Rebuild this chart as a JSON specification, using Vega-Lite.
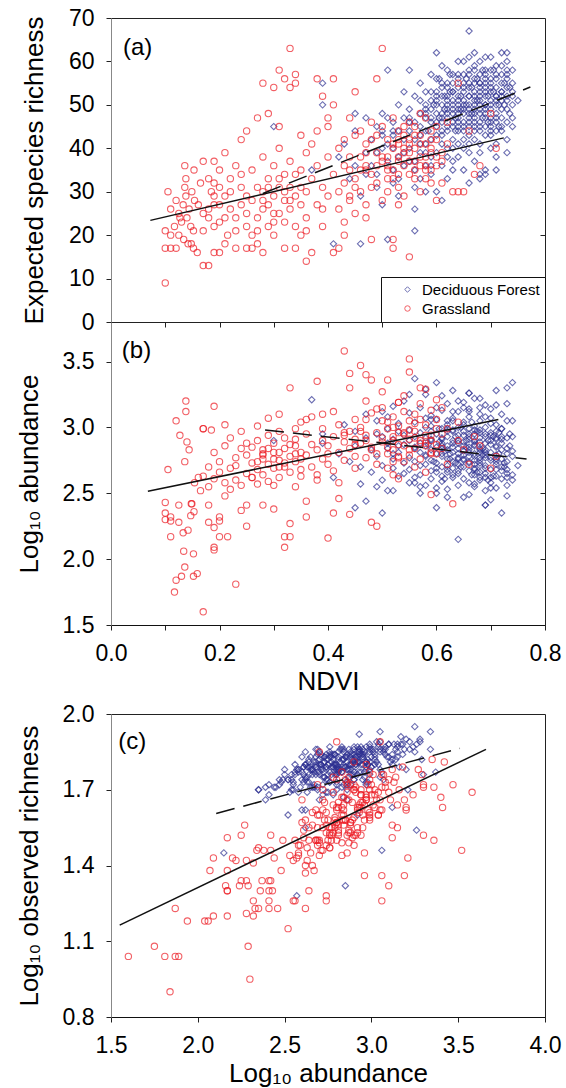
{
"$schema":"https://vega.github.io/schema/vega-lite/v6.json",
"padding":{"left":15,"top":6,"right":5,"bottom":5},
"config":{"font":"Liberation Sans","view":{"stroke":"#222","strokeWidth":1},"axis":{"grid":false,"labelFontSize":23,"titleFontSize":26,"titleFontWeight":"normal","labelColor":"#000","titleColor":"#000","tickColor":"#222","domainColor":"#222","tickSize":5,"labelPadding":12,"labelFlush":false,"labelOverlap":false}},
"datasets":{
"F":[
{"n":0.37,"e":35,"a":3.21,"o":1.70},{"n":0.39,"e":55,"a":2.95,"o":1.86},{"n":0.39,"e":50,"a":2.88,"o":1.78},{"n":0.30,"e":45,"a":2.90,"o":1.74},{"n":0.41,"e":18,"a":2.62,"o":1.55},{"n":0.42,"e":38,"a":2.80,"o":1.72},{"n":0.43,"e":41,"a":3.02,"o":1.80},{"n":0.44,"e":33,"a":2.74,"o":1.69},{"n":0.45,"e":36,"a":2.86,"o":1.73},{"n":0.45,"e":44,"a":2.97,"o":1.81},{"n":0.46,"e":18,"a":2.57,"o":1.28},{"n":0.46,"e":29,"a":2.70,"o":1.66},{"n":0.47,"e":39,"a":2.44,"o":1.71},{"n":0.47,"e":47,"a":3.10,"o":1.83},{"n":0.47,"e":34,"a":2.92,"o":1.76},
{"n":0.48,"e":42,"a":2.83,"o":1.77},{"n":0.48,"e":36,"a":2.66,"o":1.71},{"n":0.49,"e":45,"a":3.05,"o":1.85},{"n":0.49,"e":31,"a":2.78,"o":1.68},{"n":0.49,"e":39,"a":2.95,"o":1.74},{"n":0.50,"e":48,"a":2.71,"o":1.79},{"n":0.50,"e":43,"a":3.12,"o":1.82},{"n":0.50,"e":27,"a":2.60,"o":1.62},{"n":0.51,"e":58,"a":2.88,"o":1.80},{"n":0.51,"e":37,"a":2.84,"o":1.72},{"n":0.51,"e":19,"a":2.52,"o":1.60},{"n":0.51,"e":41,"a":2.99,"o":1.76},{"n":0.52,"e":35,"a":2.69,"o":1.70},{"n":0.52,"e":46,"a":2.91,"o":1.83},{"n":0.52,"e":40,"a":3.16,"o":1.79},{"n":0.52,"e":32,"a":2.76,"o":1.73},{"n":0.53,"e":50,"a":2.81,"o":1.78},{"n":0.53,"e":38,"a":2.63,"o":1.69},{"n":0.53,"e":44,"a":3.03,"o":1.81},{"n":0.53,"e":29,"a":2.86,"o":1.66},{"n":0.54,"e":42,"a":2.73,"o":1.75},{"n":0.54,"e":47,"a":2.94,"o":1.84},{"n":0.54,"e":36,"a":3.20,"o":1.78},{"n":0.54,"e":53,"a":2.87,"o":1.80},{"n":0.49,"e":34,"a":2.55,"o":1.70},{"n":0.50,"e":40,"a":2.93,"o":1.77},{"n":0.52,"e":44,"a":2.80,"o":1.76},{"n":0.53,"e":33,"a":2.97,"o":1.72},{"n":0.54,"e":39,"a":2.65,"o":1.71},{"n":0.51,"e":47,"a":3.08,"o":1.86},
{"n":0.55,"e":58,"a":2.90,"o":1.82},{"n":0.55,"e":44,"a":2.77,"o":1.76},{"n":0.55,"e":37,"a":2.98,"o":1.73},{"n":0.55,"e":49,"a":2.68,"o":1.79},{"n":0.55,"e":40,"a":3.11,"o":1.81},{"n":0.56,"e":26,"a":2.84,"o":1.67},{"n":0.56,"e":21,"a":2.62,"o":1.62},{"n":0.56,"e":46,"a":2.93,"o":1.85},{"n":0.56,"e":42,"a":2.74,"o":1.74},{"n":0.56,"e":52,"a":3.04,"o":1.80},{"n":0.56,"e":35,"a":2.58,"o":1.69},{"n":0.56,"e":37,"a":3.37,"o":1.77},{"n":0.57,"e":45,"a":2.81,"o":1.78},{"n":0.57,"e":39,"a":2.96,"o":1.75},{"n":0.57,"e":55,"a":2.71,"o":1.83},{"n":0.57,"e":48,"a":3.15,"o":1.87},{"n":0.57,"e":33,"a":2.88,"o":1.72},{"n":0.57,"e":43,"a":2.64,"o":1.73},{"n":0.58,"e":50,"a":2.92,"o":1.81},{"n":0.58,"e":41,"a":2.79,"o":1.76},{"n":0.58,"e":36,"a":3.07,"o":1.74},{"n":0.58,"e":47,"a":2.56,"o":1.77},{"n":0.58,"e":53,"a":2.86,"o":1.84},{"n":0.58,"e":30,"a":2.72,"o":1.68},{"n":0.58,"e":44,"a":3.00,"o":1.79},{"n":0.59,"e":57,"a":2.83,"o":1.79},{"n":0.59,"e":38,"a":2.67,"o":1.71},{"n":0.59,"e":46,"a":3.09,"o":1.83},{"n":0.59,"e":42,"a":2.90,"o":1.77},{"n":0.59,"e":51,"a":2.75,"o":1.80},{"n":0.59,"e":34,"a":2.97,"o":1.73},{"n":0.55,"e":46,"a":3.25,"o":1.85},{"n":0.57,"e":51,"a":2.50,"o":1.78},{"n":0.58,"e":39,"a":3.29,"o":1.82},{"n":0.59,"e":49,"a":2.61,"o":1.76},
{"n":0.60,"e":62,"a":3.34,"o":1.93},{"n":0.60,"e":30,"a":2.39,"o":1.66},{"n":0.60,"e":48,"a":2.85,"o":1.79},{"n":0.60,"e":43,"a":2.73,"o":1.75},{"n":0.60,"e":53,"a":2.95,"o":1.84},{"n":0.60,"e":39,"a":3.06,"o":1.77},{"n":0.60,"e":56,"a":2.66,"o":1.78},{"n":0.61,"e":28,"a":2.80,"o":1.70},{"n":0.61,"e":46,"a":2.91,"o":1.82},{"n":0.61,"e":50,"a":2.78,"o":1.79},{"n":0.61,"e":41,"a":2.99,"o":1.78},{"n":0.61,"e":54,"a":3.13,"o":1.88},{"n":0.61,"e":36,"a":2.59,"o":1.71},{"n":0.61,"e":47,"a":2.70,"o":1.76},{"n":0.61,"e":59,"a":2.88,"o":1.85},{"n":0.62,"e":44,"a":2.83,"o":1.77},{"n":0.62,"e":52,"a":3.02,"o":1.83},{"n":0.62,"e":38,"a":2.76,"o":1.73},{"n":0.62,"e":49,"a":2.47,"o":1.74},{"n":0.62,"e":55,"a":2.93,"o":1.86},{"n":0.62,"e":45,"a":3.18,"o":1.84},{"n":0.62,"e":33,"a":2.86,"o":1.72},{"n":0.62,"e":51,"a":2.68,"o":1.80},{"n":0.63,"e":48,"a":2.97,"o":1.81},{"n":0.63,"e":42,"a":2.62,"o":1.74},{"n":0.63,"e":57,"a":2.81,"o":1.83},{"n":0.63,"e":46,"a":3.28,"o":1.89},{"n":0.63,"e":53,"a":2.74,"o":1.79},{"n":0.63,"e":40,"a":2.90,"o":1.76},{"n":0.63,"e":50,"a":3.07,"o":1.85},{"n":0.63,"e":35,"a":2.69,"o":1.71},{"n":0.64,"e":47,"a":2.15,"o":1.45},{"n":0.64,"e":54,"a":2.84,"o":1.82},{"n":0.64,"e":44,"a":3.00,"o":1.79},{"n":0.64,"e":60,"a":2.77,"o":1.84},{"n":0.64,"e":49,"a":2.56,"o":1.76},{"n":0.64,"e":41,"a":3.12,"o":1.80},{"n":0.64,"e":52,"a":2.94,"o":1.87},{"n":0.64,"e":38,"a":2.72,"o":1.72},{"n":0.64,"e":56,"a":3.20,"o":1.90},{"n":0.60,"e":45,"a":2.54,"o":1.74},{"n":0.61,"e":52,"a":3.24,"o":1.87},{"n":0.62,"e":40,"a":2.53,"o":1.69},{"n":0.63,"e":45,"a":2.88,"o":1.80},{"n":0.64,"e":50,"a":2.65,"o":1.78},{"n":0.60,"e":50,"a":3.15,"o":1.83},{"n":0.61,"e":43,"a":2.63,"o":1.75},{"n":0.62,"e":58,"a":2.99,"o":1.85},{"n":0.63,"e":37,"a":3.05,"o":1.75},{"n":0.64,"e":46,"a":2.80,"o":1.78},
{"n":0.65,"e":51,"a":2.82,"o":1.81},{"n":0.65,"e":44,"a":2.97,"o":1.78},{"n":0.65,"e":57,"a":2.70,"o":1.82},{"n":0.65,"e":48,"a":3.19,"o":1.86},{"n":0.65,"e":40,"a":2.61,"o":1.73},{"n":0.65,"e":54,"a":2.89,"o":1.84},{"n":0.65,"e":46,"a":2.76,"o":1.77},{"n":0.65,"e":60,"a":3.04,"o":1.88},{"n":0.65,"e":35,"a":2.86,"o":1.70},{"n":0.66,"e":67,"a":2.93,"o":1.92},{"n":0.66,"e":50,"a":2.74,"o":1.79},{"n":0.66,"e":43,"a":2.91,"o":1.80},{"n":0.66,"e":55,"a":2.58,"o":1.77},{"n":0.66,"e":47,"a":3.08,"o":1.84},{"n":0.66,"e":52,"a":2.85,"o":1.83},{"n":0.66,"e":39,"a":2.67,"o":1.72},{"n":0.66,"e":58,"a":2.99,"o":1.87},{"n":0.66,"e":49,"a":2.49,"o":1.74},{"n":0.66,"e":45,"a":3.14,"o":1.82},{"n":0.67,"e":53,"a":2.80,"o":1.80},{"n":0.67,"e":48,"a":2.95,"o":1.83},{"n":0.67,"e":42,"a":2.72,"o":1.75},{"n":0.67,"e":59,"a":2.87,"o":1.86},{"n":0.67,"e":51,"a":3.22,"o":1.89},{"n":0.67,"e":45,"a":2.64,"o":1.76},{"n":0.67,"e":56,"a":2.78,"o":1.82},{"n":0.67,"e":37,"a":2.90,"o":1.74},{"n":0.67,"e":50,"a":3.01,"o":1.85},{"n":0.67,"e":62,"a":2.69,"o":1.84},{"n":0.67,"e":47,"a":2.55,"o":1.73},{"n":0.68,"e":54,"a":2.92,"o":1.85},{"n":0.68,"e":49,"a":2.77,"o":1.79},{"n":0.68,"e":34,"a":2.83,"o":1.71},{"n":0.68,"e":57,"a":3.10,"o":1.88},{"n":0.68,"e":44,"a":2.66,"o":1.76},{"n":0.68,"e":52,"a":2.96,"o":1.84},{"n":0.68,"e":46,"a":2.84,"o":1.79},{"n":0.68,"e":60,"a":2.73,"o":1.83},{"n":0.68,"e":41,"a":3.05,"o":1.78},{"n":0.68,"e":50,"a":2.60,"o":1.77},{"n":0.69,"e":55,"a":2.88,"o":1.83},{"n":0.69,"e":48,"a":2.71,"o":1.78},{"n":0.69,"e":35,"a":2.41,"o":1.68},{"n":0.69,"e":52,"a":3.00,"o":1.86},{"n":0.69,"e":58,"a":2.79,"o":1.84},{"n":0.69,"e":45,"a":2.93,"o":1.81},{"n":0.69,"e":50,"a":2.52,"o":1.74},{"n":0.69,"e":43,"a":2.81,"o":1.77},{"n":0.69,"e":61,"a":3.17,"o":1.91},{"n":0.69,"e":53,"a":2.65,"o":1.79},{"n":0.65,"e":50,"a":2.47,"o":1.72},{"n":0.66,"e":54,"a":3.26,"o":1.88},{"n":0.67,"e":44,"a":2.98,"o":1.80},{"n":0.68,"e":48,"a":3.15,"o":1.85},{"n":0.69,"e":47,"a":2.62,"o":1.75},{"n":0.65,"e":42,"a":2.75,"o":1.74},{"n":0.66,"e":61,"a":2.83,"o":1.86},{"n":0.67,"e":55,"a":2.57,"o":1.78},{"n":0.68,"e":39,"a":2.89,"o":1.76},{"n":0.69,"e":56,"a":3.08,"o":1.87},
{"n":0.70,"e":53,"a":2.81,"o":1.82},{"n":0.70,"e":47,"a":2.94,"o":1.80},{"n":0.70,"e":58,"a":2.68,"o":1.81},{"n":0.70,"e":50,"a":3.07,"o":1.86},{"n":0.70,"e":43,"a":2.75,"o":1.76},{"n":0.70,"e":56,"a":2.58,"o":1.78},{"n":0.70,"e":61,"a":2.90,"o":1.87},{"n":0.70,"e":45,"a":2.45,"o":1.71},{"n":0.71,"e":52,"a":2.86,"o":1.83},{"n":0.71,"e":48,"a":2.72,"o":1.78},{"n":0.71,"e":59,"a":2.97,"o":1.87},{"n":0.71,"e":54,"a":3.17,"o":1.88},{"n":0.71,"e":41,"a":2.63,"o":1.73},{"n":0.71,"e":50,"a":2.79,"o":1.80},{"n":0.71,"e":57,"a":2.54,"o":1.76},{"n":0.71,"e":46,"a":3.02,"o":1.82},{"n":0.72,"e":55,"a":2.76,"o":1.83},{"n":0.72,"e":51,"a":2.88,"o":1.84},{"n":0.72,"e":62,"a":2.70,"o":1.85},{"n":0.72,"e":44,"a":2.35,"o":1.70},{"n":0.72,"e":49,"a":2.93,"o":1.81},{"n":0.72,"e":57,"a":2.61,"o":1.79},{"n":0.72,"e":53,"a":3.10,"o":1.88},{"n":0.72,"e":47,"a":2.67,"o":1.77},{"n":0.73,"e":56,"a":2.84,"o":1.85},{"n":0.73,"e":46,"a":2.74,"o":1.78},{"n":0.73,"e":60,"a":2.56,"o":1.80},{"n":0.73,"e":52,"a":3.05,"o":1.86},{"n":0.73,"e":42,"a":2.80,"o":1.76},{"n":0.73,"e":62,"a":2.68,"o":1.83},{"n":0.73,"e":49,"a":2.48,"o":1.73},{"n":0.74,"e":52,"a":2.93,"o":1.84},{"n":0.74,"e":55,"a":2.64,"o":1.81},{"n":0.74,"e":47,"a":2.78,"o":1.79},{"n":0.74,"e":58,"a":3.05,"o":1.89},{"n":0.74,"e":45,"a":2.60,"o":1.74},{"n":0.75,"e":51,"a":2.71,"o":1.80},{"n":0.70,"e":51,"a":3.14,"o":1.86},{"n":0.71,"e":44,"a":2.91,"o":1.79},{"n":0.72,"e":59,"a":2.99,"o":1.88},{"n":0.73,"e":54,"a":2.62,"o":1.80},{"n":0.69,"e":34,"a":2.41,"o":1.72},{"n":0.68,"e":33,"a":2.75,"o":1.69},{"n":0.71,"e":38,"a":2.85,"o":1.74},{"n":0.70,"e":40,"a":2.54,"o":1.70},
{"n":0.58,"e":48,"a":3.25,"o":1.95},{"n":0.74,"e":50,"a":3.34,"o":1.86},{"n":0.62,"e":47,"a":3.05,"o":1.93},{"n":0.66,"e":41,"a":3.26,"o":1.54},{"n":0.59,"e":36,"a":3.06,"o":1.46},{"n":0.56,"e":31,"a":2.85,"o":1.32},{"n":0.50,"e":44,"a":2.35,"o":1.70},{"n":0.45,"e":48,"a":2.39,"o":1.71},{"n":0.73,"e":39,"a":3.30,"o":1.76},{"n":0.71,"e":35,"a":2.92,"o":1.60},{"n":0.66,"e":32,"a":3.12,"o":1.63},
{"n":0.58,"e":49,"a":2.78,"o":1.80},{"n":0.59,"e":53,"a":2.91,"o":1.83},{"n":0.60,"e":46,"a":2.69,"o":1.77},{"n":0.61,"e":55,"a":2.84,"o":1.86},{"n":0.62,"e":48,"a":2.97,"o":1.79},{"n":0.63,"e":51,"a":2.64,"o":1.82},{"n":0.64,"e":57,"a":2.88,"o":1.76},{"n":0.65,"e":45,"a":3.02,"o":1.84},{"n":0.66,"e":52,"a":2.73,"o":1.81},{"n":0.67,"e":49,"a":2.86,"o":1.78},{"n":0.68,"e":55,"a":2.62,"o":1.85},{"n":0.69,"e":50,"a":2.95,"o":1.80},{"n":0.70,"e":54,"a":2.77,"o":1.83},{"n":0.71,"e":47,"a":2.68,"o":1.76},{"n":0.72,"e":52,"a":2.83,"o":1.82},{"n":0.73,"e":57,"a":2.92,"o":1.87},{"n":0.585,"e":44,"a":2.87,"o":1.75},{"n":0.595,"e":50,"a":2.74,"o":1.84},{"n":0.605,"e":56,"a":2.99,"o":1.81},{"n":0.615,"e":49,"a":2.61,"o":1.79},{"n":0.625,"e":53,"a":2.80,"o":1.77},{"n":0.635,"e":47,"a":2.93,"o":1.86},{"n":0.645,"e":52,"a":2.70,"o":1.80},{"n":0.655,"e":56,"a":2.85,"o":1.83},{"n":0.665,"e":48,"a":3.04,"o":1.87},{"n":0.675,"e":51,"a":2.66,"o":1.78},{"n":0.685,"e":58,"a":2.79,"o":1.84},{"n":0.695,"e":46,"a":2.90,"o":1.81},{"n":0.705,"e":53,"a":2.63,"o":1.79},{"n":0.715,"e":50,"a":2.96,"o":1.85},{"n":0.725,"e":55,"a":2.73,"o":1.81},{"n":0.735,"e":48,"a":2.86,"o":1.78},{"n":0.59,"e":47,"a":3.01,"o":1.86},{"n":0.60,"e":51,"a":2.80,"o":1.73},{"n":0.61,"e":44,"a":2.92,"o":1.82},{"n":0.62,"e":54,"a":2.71,"o":1.84},{"n":0.63,"e":49,"a":2.85,"o":1.79},{"n":0.64,"e":45,"a":2.67,"o":1.81},{"n":0.65,"e":53,"a":2.94,"o":1.77},{"n":0.66,"e":57,"a":2.81,"o":1.85},{"n":0.67,"e":46,"a":2.75,"o":1.82},{"n":0.68,"e":51,"a":2.98,"o":1.80},{"n":0.69,"e":54,"a":2.69,"o":1.86},{"n":0.70,"e":49,"a":2.87,"o":1.78},{"n":0.71,"e":56,"a":2.76,"o":1.84},{"n":0.72,"e":45,"a":2.91,"o":1.80},{"n":0.73,"e":51,"a":2.65,"o":1.83},{"n":0.74,"e":53,"a":2.82,"o":1.86},{"n":0.605,"e":47,"a":2.89,"o":1.80},{"n":0.625,"e":57,"a":2.76,"o":1.87},{"n":0.645,"e":49,"a":3.00,"o":1.83},{"n":0.665,"e":54,"a":2.64,"o":1.79},{"n":0.685,"e":47,"a":2.84,"o":1.82},{"n":0.705,"e":58,"a":2.93,"o":1.85},{"n":0.725,"e":50,"a":2.70,"o":1.77},{"n":0.615,"e":52,"a":2.82,"o":1.78},{"n":0.635,"e":44,"a":2.73,"o":1.83},{"n":0.655,"e":50,"a":2.90,"o":1.86},{"n":0.675,"e":56,"a":2.97,"o":1.81},{"n":0.695,"e":52,"a":2.60,"o":1.83},{"n":0.715,"e":45,"a":2.80,"o":1.79},{"n":0.735,"e":54,"a":2.95,"o":1.84},{"n":0.66,"e":48,"a":2.78,"o":1.84},{"n":0.67,"e":52,"a":2.89,"o":1.82},{"n":0.68,"e":45,"a":2.71,"o":1.80},{"n":0.69,"e":57,"a":2.83,"o":1.87},{"n":0.70,"e":44,"a":2.96,"o":1.77},{"n":0.64,"e":51,"a":2.76,"o":1.85},{"n":0.63,"e":55,"a":2.98,"o":1.82},{"n":0.62,"e":50,"a":2.66,"o":1.78},{"n":0.61,"e":48,"a":2.86,"o":1.81},{"n":0.72,"e":53,"a":2.99,"o":1.86},{"n":0.71,"e":51,"a":2.74,"o":1.82},{"n":0.70,"e":46,"a":2.62,"o":1.80},{"n":0.68,"e":53,"a":2.81,"o":1.79},{"n":0.67,"e":58,"a":2.68,"o":1.86},{"n":0.66,"e":46,"a":2.95,"o":1.83},{"n":0.65,"e":55,"a":2.79,"o":1.80},{"n":0.64,"e":48,"a":2.90,"o":1.84},{"n":0.69,"e":49,"a":2.77,"o":1.81},
{"n":0.52,"e":43,"a":2.52,"o":1.74},{"n":0.55,"e":47,"a":2.58,"o":1.78},{"n":0.57,"e":41,"a":2.55,"o":1.72},{"n":0.60,"e":52,"a":2.50,"o":1.76},{"n":0.65,"e":49,"a":3.15,"o":1.88},{"n":0.68,"e":55,"a":3.22,"o":1.86},{"n":0.71,"e":52,"a":3.28,"o":1.90},{"n":0.63,"e":53,"a":3.12,"o":1.84},{"n":0.73,"e":58,"a":3.18,"o":1.88},{"n":0.70,"e":55,"a":3.03,"o":1.89}
],
"G":[
{"n":0.10,"e":17,"a":2.43,"o":1.30},{"n":0.10,"e":21,"a":2.35,"o":1.23},{"n":0.10,"e":9,"a":2.30,"o":0.95},{"n":0.11,"e":20,"a":2.32,"o":1.20},{"n":0.11,"e":26,"a":2.17,"o":1.38},{"n":0.105,"e":30,"a":2.68,"o":1.50},{"n":0.11,"e":17,"a":2.29,"o":1.08},{"n":0.12,"e":28,"a":3.05,"o":1.66},{"n":0.12,"e":17,"a":1.84,"o":0.90},{"n":0.117,"e":22,"a":1.75,"o":1.08},{"n":0.125,"e":20,"a":2.41,"o":1.26},{"n":0.125,"e":25,"a":2.28,"o":1.21},{"n":0.127,"e":24,"a":2.94,"o":1.52},{"n":0.13,"e":23,"a":1.87,"o":1.04},{"n":0.133,"e":27,"a":2.20,"o":1.43},{"n":0.134,"e":19,"a":2.06,"o":1.18},{"n":0.136,"e":36,"a":1.94,"o":1.18},{"n":0.136,"e":31,"a":2.74,"o":1.53},{"n":0.138,"e":33,"a":3.20,"o":1.62},{"n":0.138,"e":29,"a":3.12,"o":1.56},{"n":0.14,"e":24,"a":2.89,"o":1.58},{"n":0.142,"e":18,"a":2.22,"o":1.42},{"n":0.144,"e":26,"a":2.83,"o":1.49},{"n":0.147,"e":22,"a":2.33,"o":1.23},{"n":0.148,"e":18,"a":2.42,"o":1.46},{"n":0.149,"e":30,"a":2.42,"o":1.34},{"n":0.152,"e":17,"a":2.04,"o":1.18},{"n":0.152,"e":21,"a":1.87,"o":1.23},{"n":0.153,"e":35,"a":2.36,"o":1.30},{"n":0.154,"e":28,"a":2.58,"o":1.45},{"n":0.159,"e":16,"a":1.89,"o":1.04},{"n":0.161,"e":27,"a":2.62,"o":1.40},{"n":0.165,"e":32,"a":2.52,"o":1.15},{"n":0.17,"e":13,"a":1.60,"o":1.04},{"n":0.17,"e":25,"a":2.99,"o":1.58},
{"n":0.17,"e":37,"a":2.99,"o":1.60},{"n":0.18,"e":13,"a":2.41,"o":1.23},{"n":0.18,"e":24,"a":2.28,"o":1.34},{"n":0.185,"e":30,"a":2.98,"o":1.62},{"n":0.19,"e":37,"a":2.07,"o":1.38},{"n":0.19,"e":22,"a":2.24,"o":1.32},{"n":0.19,"e":29,"a":3.16,"o":1.70},{"n":0.19,"e":16,"a":2.09,"o":1.20},{"n":0.20,"e":16,"a":2.29,"o":1.32},{"n":0.20,"e":27,"a":2.17,"o":1.51},{"n":0.20,"e":31,"a":2.32,"o":1.41},{"n":0.21,"e":39,"a":3.02,"o":1.68},{"n":0.215,"e":20,"a":2.17,"o":1.30},{"n":0.23,"e":17,"a":1.81,"o":1.04},{"n":0.24,"e":42,"a":2.37,"o":1.34},{"n":0.25,"e":17,"a":2.41,"o":1.34},{"n":0.25,"e":25,"a":2.25,"o":1.34},{"n":0.17,"e":21,"a":2.63,"o":1.47},{"n":0.18,"e":26,"a":2.70,"o":1.50},{"n":0.18,"e":33,"a":2.55,"o":1.42},{"n":0.19,"e":27,"a":2.81,"o":1.56},{"n":0.20,"e":23,"a":2.66,"o":1.40},{"n":0.20,"e":35,"a":2.74,"o":1.61},{"n":0.21,"e":29,"a":2.58,"o":1.48},{"n":0.21,"e":18,"a":2.86,"o":1.52},{"n":0.22,"e":33,"a":2.69,"o":1.55},{"n":0.22,"e":26,"a":2.53,"o":1.44},{"n":0.22,"e":30,"a":2.92,"o":1.63},{"n":0.23,"e":24,"a":2.77,"o":1.50},{"n":0.23,"e":36,"a":2.60,"o":1.57},{"n":0.23,"e":21,"a":2.71,"o":1.46},{"n":0.24,"e":31,"a":2.84,"o":1.64},{"n":0.24,"e":27,"a":2.56,"o":1.50},{"n":0.24,"e":34,"a":2.97,"o":1.68},{"n":0.25,"e":22,"a":2.65,"o":1.45},{"n":0.25,"e":44,"a":2.79,"o":1.58},{"n":0.25,"e":29,"a":2.88,"o":1.53},{"n":0.21,"e":24,"a":2.48,"o":1.38},{"n":0.19,"e":32,"a":2.61,"o":1.51},
{"n":0.26,"e":17,"a":2.62,"o":1.37},{"n":0.26,"e":28,"a":2.85,"o":1.58},{"n":0.26,"e":35,"a":2.73,"o":1.65},{"n":0.27,"e":47,"a":2.90,"o":1.70},{"n":0.27,"e":24,"a":2.68,"o":1.50},{"n":0.27,"e":31,"a":3.01,"o":1.64},{"n":0.27,"e":21,"a":2.57,"o":1.43},{"n":0.28,"e":55,"a":2.80,"o":1.74},{"n":0.28,"e":16,"a":2.41,"o":1.30},{"n":0.28,"e":26,"a":2.76,"o":1.52},{"n":0.28,"e":38,"a":2.83,"o":1.67},{"n":0.28,"e":30,"a":2.64,"o":1.55},{"n":0.29,"e":48,"a":3.07,"o":1.76},{"n":0.29,"e":22,"a":2.72,"o":1.46},{"n":0.29,"e":33,"a":2.94,"o":1.63},{"n":0.29,"e":27,"a":2.59,"o":1.48},{"n":0.30,"e":54,"a":2.38,"o":1.46},{"n":0.30,"e":20,"a":2.81,"o":1.54},{"n":0.30,"e":36,"a":2.69,"o":1.60},{"n":0.30,"e":29,"a":2.88,"o":1.57},{"n":0.31,"e":58,"a":2.97,"o":1.80},{"n":0.31,"e":25,"a":2.75,"o":1.50},{"n":0.31,"e":40,"a":2.62,"o":1.58},{"n":0.31,"e":31,"a":3.10,"o":1.69},{"n":0.32,"e":56,"a":2.09,"o":1.43},{"n":0.32,"e":17,"a":2.17,"o":1.20},{"n":0.32,"e":34,"a":2.84,"o":1.62},{"n":0.32,"e":23,"a":2.70,"o":1.49},{"n":0.32,"e":28,"a":2.92,"o":1.55},{"n":0.33,"e":54,"a":2.17,"o":1.30},{"n":0.33,"e":63,"a":2.27,"o":1.56},{"n":0.33,"e":37,"a":3.30,"o":1.72},{"n":0.33,"e":26,"a":2.78,"o":1.53},{"n":0.33,"e":31,"a":2.66,"o":1.61},{"n":0.34,"e":55,"a":2.86,"o":1.73},{"n":0.34,"e":17,"a":2.55,"o":1.26},{"n":0.34,"e":57,"a":2.99,"o":1.77},{"n":0.34,"e":29,"a":2.74,"o":1.56},{"n":0.34,"e":22,"a":2.91,"o":1.52},{"n":0.35,"e":35,"a":2.81,"o":1.65},{"n":0.35,"e":43,"a":2.68,"o":1.62},{"n":0.35,"e":27,"a":3.04,"o":1.60},{"n":0.35,"e":20,"a":2.63,"o":1.42},
{"n":0.36,"e":14,"a":2.32,"o":1.26},{"n":0.36,"e":39,"a":2.44,"o":1.43},{"n":0.36,"e":30,"a":2.79,"o":1.59},{"n":0.36,"e":24,"a":2.95,"o":1.55},{"n":0.37,"e":16,"a":2.70,"o":1.44},{"n":0.37,"e":33,"a":2.87,"o":1.66},{"n":0.37,"e":41,"a":3.08,"o":1.71},{"n":0.38,"e":56,"a":3.35,"o":1.82},{"n":0.38,"e":27,"a":2.64,"o":1.50},{"n":0.38,"e":36,"a":2.83,"o":1.63},{"n":0.39,"e":52,"a":2.90,"o":1.72},{"n":0.39,"e":22,"a":2.76,"o":1.47},{"n":0.39,"e":31,"a":2.99,"o":1.61},{"n":0.40,"e":38,"a":2.16,"o":1.32},{"n":0.40,"e":29,"a":2.72,"o":1.55},{"n":0.40,"e":45,"a":2.86,"o":1.69},{"n":0.41,"e":56,"a":2.35,"o":1.47},{"n":0.41,"e":50,"a":3.12,"o":1.78},{"n":0.41,"e":16,"a":2.67,"o":1.38},{"n":0.41,"e":34,"a":2.93,"o":1.64},{"n":0.42,"e":17,"a":2.46,"o":1.23},{"n":0.42,"e":26,"a":2.81,"o":1.53},{"n":0.42,"e":40,"a":3.02,"o":1.70},{"n":0.43,"e":42,"a":3.58,"o":1.69},{"n":0.43,"e":32,"a":2.75,"o":1.58},{"n":0.43,"e":23,"a":2.89,"o":1.51},{"n":0.44,"e":35,"a":2.34,"o":1.46},{"n":0.44,"e":47,"a":3.41,"o":1.63},{"n":0.44,"e":28,"a":2.84,"o":1.56},{"n":0.44,"e":38,"a":2.97,"o":1.67},{"n":0.45,"e":53,"a":2.78,"o":1.75},{"n":0.45,"e":33,"a":3.06,"o":1.62},{"n":0.45,"e":25,"a":2.69,"o":1.48},{"n":0.45,"e":43,"a":2.91,"o":1.71},{"n":0.38,"e":44,"a":2.60,"o":1.66},{"n":0.42,"e":30,"a":2.58,"o":1.44},
{"n":0.46,"e":38,"a":3.47,"o":1.72},{"n":0.46,"e":30,"a":2.88,"o":1.56},{"n":0.46,"e":44,"a":3.00,"o":1.72},{"n":0.47,"e":36,"a":3.40,"o":1.67},{"n":0.47,"e":27,"a":2.77,"o":1.52},{"n":0.47,"e":41,"a":2.94,"o":1.68},{"n":0.48,"e":19,"a":2.28,"o":1.42},{"n":0.48,"e":34,"a":3.11,"o":1.66},{"n":0.48,"e":46,"a":2.85,"o":1.74},{"n":0.49,"e":56,"a":2.25,"o":1.52},{"n":0.49,"e":32,"a":2.96,"o":1.58},{"n":0.49,"e":39,"a":2.72,"o":1.62},{"n":0.50,"e":63,"a":3.05,"o":1.89},{"n":0.50,"e":37,"a":2.89,"o":1.65},{"n":0.50,"e":28,"a":3.15,"o":1.55},{"n":0.51,"e":36,"a":3.36,"o":1.71},{"n":0.51,"e":42,"a":2.99,"o":1.70},{"n":0.51,"e":33,"a":2.80,"o":1.57},{"n":0.52,"e":19,"a":2.64,"o":1.30},{"n":0.52,"e":40,"a":3.08,"o":1.73},{"n":0.52,"e":35,"a":2.93,"o":1.61},{"n":0.52,"e":47,"a":2.83,"o":1.77},{"n":0.52,"e":17,"a":2.74,"o":1.28},{"n":0.53,"e":38,"a":3.19,"o":1.66},{"n":0.53,"e":31,"a":2.87,"o":1.53},{"n":0.53,"e":44,"a":3.01,"o":1.76},{"n":0.53,"e":41,"a":2.78,"o":1.64},{"n":0.54,"e":36,"a":2.95,"o":1.60},{"n":0.54,"e":29,"a":3.12,"o":1.51},{"n":0.54,"e":45,"a":2.86,"o":1.72},{"n":0.54,"e":39,"a":3.24,"o":1.68},{"n":0.55,"e":15,"a":3.52,"o":1.46},{"n":0.55,"e":42,"a":2.91,"o":1.69},{"n":0.55,"e":34,"a":2.79,"o":1.55},{"n":0.55,"e":37,"a":3.05,"o":1.62},{"n":0.47,"e":35,"a":3.20,"o":1.63},{"n":0.49,"e":43,"a":3.14,"o":1.75},{"n":0.51,"e":30,"a":2.69,"o":1.50},{"n":0.53,"e":34,"a":2.61,"o":1.54},{"n":0.50,"e":45,"a":3.27,"o":1.78},
{"n":0.56,"e":40,"a":2.97,"o":1.66},{"n":0.56,"e":33,"a":2.84,"o":1.58},{"n":0.56,"e":45,"a":3.10,"o":1.74},{"n":0.57,"e":38,"a":3.30,"o":1.71},{"n":0.57,"e":43,"a":2.90,"o":1.70},{"n":0.57,"e":30,"a":2.76,"o":1.53},{"n":0.58,"e":41,"a":3.29,"o":1.76},{"n":0.58,"e":36,"a":3.02,"o":1.63},{"n":0.58,"e":47,"a":2.88,"o":1.72},{"n":0.59,"e":35,"a":2.49,"o":1.50},{"n":0.59,"e":39,"a":2.94,"o":1.68},{"n":0.59,"e":44,"a":3.13,"o":1.73},{"n":0.59,"e":32,"a":2.80,"o":1.62},{"n":0.60,"e":28,"a":2.80,"o":1.57},{"n":0.60,"e":42,"a":3.06,"o":1.71},{"n":0.61,"e":37,"a":2.95,"o":1.65},{"n":0.62,"e":41,"a":2.72,"o":1.66},{"n":0.62,"e":46,"a":2.99,"o":1.74},{"n":0.63,"e":30,"a":2.42,"o":1.52},{"n":0.64,"e":55,"a":2.90,"o":1.81},{"n":0.64,"e":30,"a":3.04,"o":1.60},{"n":0.65,"e":30,"a":2.83,"o":1.58},{"n":0.66,"e":44,"a":2.72,"o":1.70},{"n":0.67,"e":34,"a":2.93,"o":1.63},{"n":0.68,"e":36,"a":2.86,"o":1.66},{"n":0.70,"e":48,"a":2.69,"o":1.72},{"n":0.71,"e":40,"a":2.78,"o":1.69},{"n":0.57,"e":48,"a":3.18,"o":1.79},{"n":0.58,"e":33,"a":2.66,"o":1.56},{"n":0.60,"e":45,"a":2.87,"o":1.75},{"n":0.61,"e":32,"a":3.15,"o":1.64},{"n":0.56,"e":37,"a":2.70,"o":1.60},
{"n":0.55,"e":46,"a":3.42,"o":1.81},{"n":0.48,"e":31,"a":3.36,"o":1.50},{"n":0.44,"e":29,"a":3.30,"o":1.52},{"n":0.60,"e":38,"a":3.21,"o":1.43},{"n":0.53,"e":27,"a":3.19,"o":1.36},{"n":0.47,"e":24,"a":3.06,"o":1.36},{"n":0.39,"e":26,"a":3.10,"o":1.32},{"n":0.43,"e":20,"a":2.96,"o":1.36},{"n":0.36,"e":21,"a":3.06,"o":1.26},{"n":0.27,"e":18,"a":2.74,"o":1.26},{"n":0.30,"e":23,"a":2.56,"o":1.26},{"n":0.26,"e":20,"a":2.62,"o":1.23},{"n":0.40,"e":47,"a":2.80,"o":1.89},{"n":0.31,"e":45,"a":2.70,"o":1.85},
{"n":0.50,"e":38,"a":2.92,"o":1.62},{"n":0.51,"e":35,"a":2.85,"o":1.58},{"n":0.52,"e":41,"a":3.00,"o":1.68},{"n":0.53,"e":37,"a":2.77,"o":1.55},{"n":0.54,"e":43,"a":2.96,"o":1.64},{"n":0.55,"e":39,"a":2.83,"o":1.60},{"n":0.56,"e":35,"a":3.03,"o":1.66},{"n":0.57,"e":41,"a":2.88,"o":1.57},{"n":0.58,"e":38,"a":2.94,"o":1.70},{"n":0.59,"e":42,"a":2.81,"o":1.63},{"n":0.60,"e":36,"a":2.99,"o":1.59},{"n":0.52,"e":33,"a":2.90,"o":1.52},{"n":0.54,"e":40,"a":2.74,"o":1.48},{"n":0.56,"e":43,"a":2.92,"o":1.53},{"n":0.58,"e":35,"a":2.86,"o":1.45},{"n":0.49,"e":36,"a":2.80,"o":1.50},{"n":0.47,"e":39,"a":2.90,"o":1.59},{"n":0.45,"e":31,"a":2.87,"o":1.54},{"n":0.43,"e":36,"a":2.94,"o":1.65},{"n":0.28,"e":28,"a":2.79,"o":1.56},{"n":0.29,"e":31,"a":2.84,"o":1.60},{"n":0.30,"e":25,"a":2.76,"o":1.47},{"n":0.31,"e":33,"a":2.81,"o":1.52},{"n":0.32,"e":30,"a":2.73,"o":1.58},{"n":0.33,"e":28,"a":2.87,"o":1.49},{"n":0.34,"e":34,"a":2.80,"o":1.63},{"n":0.35,"e":31,"a":2.76,"o":1.55},{"n":0.55,"e":41,"a":2.98,"o":1.72},{"n":0.57,"e":36,"a":3.06,"o":1.76},{"n":0.59,"e":40,"a":2.90,"o":1.48},{"n":0.61,"e":39,"a":2.84,"o":1.67},{"n":0.53,"e":42,"a":2.96,"o":1.45},{"n":0.51,"e":38,"a":3.04,"o":1.69},{"n":0.48,"e":42,"a":2.83,"o":1.44},{"n":0.46,"e":35,"a":2.97,"o":1.66}
]
},
"vconcat":[
{"vconcat":[
{"width":434,"height":304,
"layer":[
{"data":{"name":"F"},"mark":{"type":"point","filled":false,"size":40,"strokeWidth":1.1},
"encoding":{
"x":{"field":"n","type":"quantitative","scale":{"domain":[0,0.8],"nice":false,"zero":false},"axis":{"orient":"bottom","values":[0,0.1,0.2,0.3,0.4,0.5,0.6,0.7,0.8],"labels":false,"title":null,"domainColor":"#111"}},
"y":{"field":"e","type":"quantitative","scale":{"domain":[0,70],"nice":false,"zero":false},"axis":{"orient":"left","values":[0,10,20,30,40,50,60,70],"title":"Expected species richness","titlePadding":21,"domainColor":"#888"}},
"color":{"datum":"Deciduous Forest","type":"nominal","scale":{"domain":["Deciduous Forest","Grassland"],"range":["#2e3192","#ed1c24"]},"legend":{"title":null,"orient":"bottom-right","offset":0,"padding":5,"strokeColor":"#111","fillColor":"white","labelFontSize":15,"symbolSize":30,"symbolStrokeWidth":1,"symbolOffset":14,"labelOffset":7,"rowPadding":3}},
"shape":{"datum":"Deciduous Forest","type":"nominal","scale":{"domain":["Deciduous Forest","Grassland"],"range":["diamond","circle"]}}}},
{"data":{"name":"G"},"mark":{"type":"point","filled":false,"size":40,"strokeWidth":1.1},
"encoding":{
"x":{"field":"n","type":"quantitative","axis":null},
"y":{"field":"e","type":"quantitative","axis":null},
"color":{"datum":"Grassland","type":"nominal"},
"shape":{"datum":"Grassland","type":"nominal"}}},
{"data":{"values":[{"x":0.0725,"y":23.4,"x2":0.724,"y2":42.4}]},"mark":{"type":"rule","color":"#111","strokeWidth":1.5},
"encoding":{"x":{"field":"x","type":"quantitative","axis":null},"y":{"field":"y","type":"quantitative","axis":{"orient":"right","values":[10,20,30,40,50,60],"labels":false,"title":null,"domain":false,"tickSize":-5}},"x2":{"field":"x2"},"y2":{"field":"y2"}}},
{"data":{"values":[{"x":0.28,"y":29.6,"x2":0.773,"y2":54.1}]},"mark":{"type":"rule","color":"#111","strokeWidth":1.5,"strokeDash":[19,9]},
"encoding":{"x":{"field":"x","type":"quantitative","axis":null},"y":{"field":"y","type":"quantitative","axis":null},"x2":{"field":"x2"},"y2":{"field":"y2"}}},
{"data":{"values":[{"x":0.022,"y":61.5,"t":"(a)"}]},"mark":{"type":"text","align":"left","baseline":"alphabetic","fontSize":24,"color":"#000"},
"encoding":{"x":{"field":"x","type":"quantitative","axis":null},"y":{"field":"y","type":"quantitative","axis":null},"text":{"field":"t"}}}
],
"resolve":{"axis":{"x":"independent","y":"independent"}}},
{"width":434,"height":303,
"layer":[
{"data":{"name":"F"},"mark":{"type":"point","filled":false,"size":40,"strokeWidth":1.1},
"encoding":{
"x":{"field":"n","type":"quantitative","scale":{"domain":[0,0.8],"nice":false,"zero":false},"axis":{"orient":"bottom","values":[0,0.1,0.2,0.3,0.4,0.5,0.6,0.7,0.8],"labelExpr":"round(datum.value*10)%2==0 ? format(datum.value,'.1f') : ''","title":"NDVI","titlePadding":3,"domainColor":"#111"}},
"y":{"field":"a","type":"quantitative","scale":{"domain":[1.5,3.8],"nice":false,"zero":false},"axis":{"orient":"left","values":[1.5,2,2.5,3,3.5],"format":".1f","title":"Log₁₀ abundance","titlePadding":20,"domainColor":"#888"}},
"color":{"datum":"Deciduous Forest","type":"nominal","scale":{"domain":["Deciduous Forest","Grassland"],"range":["#2e3192","#ed1c24"]},"legend":null},
"shape":{"datum":"Deciduous Forest","type":"nominal","scale":{"domain":["Deciduous Forest","Grassland"],"range":["diamond","circle"]},"legend":null}}},
{"data":{"name":"G"},"mark":{"type":"point","filled":false,"size":40,"strokeWidth":1.1},
"encoding":{
"x":{"field":"n","type":"quantitative","axis":null},
"y":{"field":"a","type":"quantitative","axis":null},
"color":{"datum":"Grassland","type":"nominal","legend":null},
"shape":{"datum":"Grassland","type":"nominal","legend":null}}},
{"data":{"values":[{"x":0.068,"y":2.515,"x2":0.714,"y2":3.06}]},"mark":{"type":"rule","color":"#111","strokeWidth":1.5},
"encoding":{"x":{"field":"x","type":"quantitative","axis":null},"y":{"field":"y","type":"quantitative","axis":{"orient":"right","values":[2,2.5,3,3.5],"labels":false,"title":null,"domain":false,"tickSize":-5}},"x2":{"field":"x2"},"y2":{"field":"y2"}}},
{"data":{"values":[{"x":0.284,"y":2.98,"x2":0.766,"y2":2.76}]},"mark":{"type":"rule","color":"#111","strokeWidth":1.5,"strokeDash":[19,9]},
"encoding":{"x":{"field":"x","type":"quantitative","axis":null},"y":{"field":"y","type":"quantitative","axis":null},"x2":{"field":"x2"},"y2":{"field":"y2"}}},
{"data":{"values":[{"x":0.02,"y":3.525,"t":"(b)"}]},"mark":{"type":"text","align":"left","baseline":"alphabetic","fontSize":24,"color":"#000"},
"encoding":{"x":{"field":"x","type":"quantitative","axis":null},"y":{"field":"y","type":"quantitative","axis":null},"text":{"field":"t"}}}
],
"resolve":{"axis":{"x":"independent","y":"independent"}}}
],"spacing":0,"bounds":"flush",
"resolve":{"scale":{"color":"independent","shape":"independent"},"legend":{"color":"independent","shape":"independent"}}},
{"width":434,"height":303,
"layer":[
{"data":{"name":"F"},"mark":{"type":"point","filled":false,"size":40,"strokeWidth":1.1},
"encoding":{
"x":{"field":"a","type":"quantitative","scale":{"domain":[1.5,4.0],"nice":false,"zero":false},"axis":{"orient":"bottom","values":[1.5,2,2.5,3,3.5,4],"format":".1f","title":"Log₁₀ abundance","titlePadding":3,"domainColor":"#111"}},
"y":{"field":"o","type":"quantitative","scale":{"domain":[0.8,2.0],"nice":false,"zero":false},"axis":{"orient":"left","values":[0.8,1.1,1.4,1.7,2.0],"format":".1f","title":"Log₁₀ observed richness","titlePadding":20,"domainColor":"#888"}},
"color":{"datum":"Deciduous Forest","type":"nominal","scale":{"domain":["Deciduous Forest","Grassland"],"range":["#2e3192","#ed1c24"]},"legend":null},
"shape":{"datum":"Deciduous Forest","type":"nominal","scale":{"domain":["Deciduous Forest","Grassland"],"range":["diamond","circle"]},"legend":null}}},
{"data":{"name":"G"},"mark":{"type":"point","filled":false,"size":40,"strokeWidth":1.1},
"encoding":{
"x":{"field":"a","type":"quantitative","axis":null},
"y":{"field":"o","type":"quantitative","axis":null},
"color":{"datum":"Grassland","type":"nominal","legend":null},
"shape":{"datum":"Grassland","type":"nominal","legend":null}}},
{"data":{"values":[{"x":1.55,"y":1.164,"x2":3.66,"y2":1.86}]},"mark":{"type":"rule","color":"#111","strokeWidth":1.5},
"encoding":{"x":{"field":"x","type":"quantitative","axis":null},"y":{"field":"y","type":"quantitative","axis":null},"x2":{"field":"x2"},"y2":{"field":"y2"}}},
{"data":{"values":[{"x":2.106,"y":1.606,"x2":3.51,"y2":1.864}]},"mark":{"type":"rule","color":"#111","strokeWidth":1.5,"strokeDash":[19,9]},
"encoding":{"x":{"field":"x","type":"quantitative","axis":null},"y":{"field":"y","type":"quantitative","axis":null},"x2":{"field":"x2"},"y2":{"field":"y2"}}},
{"data":{"values":[{"x":1.542,"y":1.861,"t":"(c)"}]},"mark":{"type":"text","align":"left","baseline":"alphabetic","fontSize":24,"color":"#000"},
"encoding":{"x":{"field":"x","type":"quantitative","axis":null},"y":{"field":"y","type":"quantitative","axis":null},"text":{"field":"t"}}}
],
"resolve":{"axis":{"x":"independent","y":"independent"}}}
],
"spacing":7,
"resolve":{"scale":{"color":"independent","shape":"independent"},"legend":{"color":"independent","shape":"independent"}}
}
